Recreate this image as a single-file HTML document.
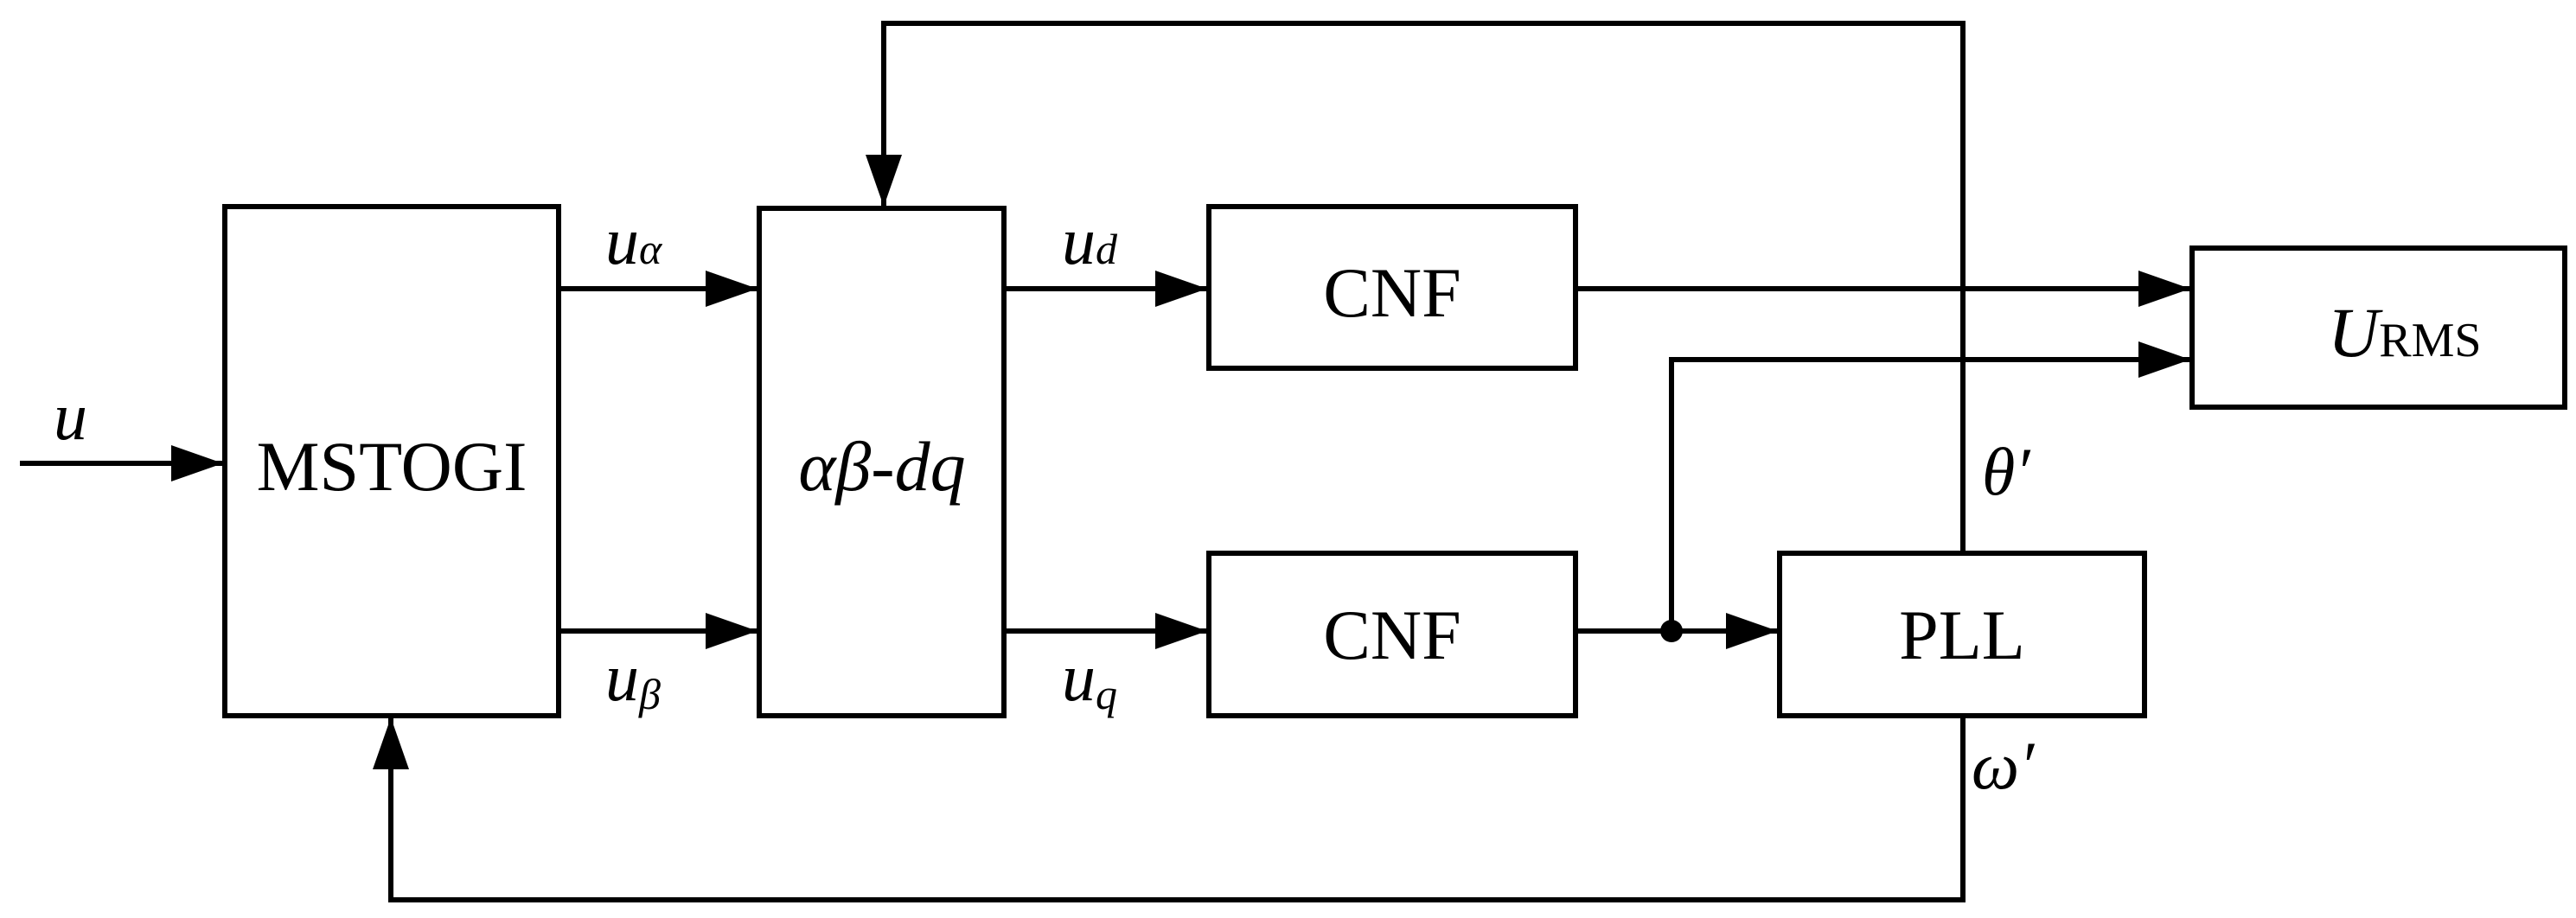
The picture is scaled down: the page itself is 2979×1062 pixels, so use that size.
<!DOCTYPE html>
<html><head><meta charset="utf-8"><style>
html,body{margin:0;padding:0;background:#fff;}
svg{display:block;}
text{font-family:"Liberation Serif",serif;fill:#000;}
</style></head><body>
<svg width="2979" height="1062" viewBox="0 0 2979 1062" xmlns="http://www.w3.org/2000/svg">
<defs>
<marker id="a" markerUnits="userSpaceOnUse" markerWidth="62" markerHeight="44" refX="60" refY="21" orient="auto">
<path d="M0,0 L60,21 L0,42 Z" fill="#000"/>
</marker>
</defs>
<g fill="none" stroke="#000" stroke-width="6">
<rect x="260" y="239" width="386" height="589"/>
<rect x="878" y="241" width="283" height="587"/>
<rect x="1398" y="239" width="424" height="187"/>
<rect x="1398" y="640" width="424" height="188"/>
<rect x="2535" y="287" width="431" height="184"/>
<rect x="2058" y="640" width="422" height="188"/>
<line x1="23" y1="536" x2="258" y2="536" marker-end="url(#a)"/>
<line x1="646" y1="334" x2="876" y2="334" marker-end="url(#a)"/>
<line x1="646" y1="730" x2="876" y2="730" marker-end="url(#a)"/>
<line x1="1161" y1="334" x2="1396" y2="334" marker-end="url(#a)"/>
<line x1="1161" y1="730" x2="1396" y2="730" marker-end="url(#a)"/>
<line x1="1822" y1="334" x2="2533" y2="334" marker-end="url(#a)"/>
<line x1="1822" y1="730" x2="2056" y2="730" marker-end="url(#a)"/>
<polyline points="1933,730 1933,416 2533,416" marker-end="url(#a)"/>
<polyline points="2270,640 2270,27 1022,27 1022,239" marker-end="url(#a)"/>
<polyline points="2270,828 2270,1041 452,1041 452,830" marker-end="url(#a)"/>
</g>
<circle cx="1933" cy="730" r="13" fill="#000"/>
<g font-size="82">
<text x="453" y="567" text-anchor="middle">MSTOGI</text>
<text x="1020" y="567" text-anchor="middle" font-style="italic">αβ-dq</text>
<text x="1610" y="366" text-anchor="middle">CNF</text>
<text x="1610" y="762" text-anchor="middle">CNF</text>
<text x="2269" y="762" text-anchor="middle">PLL</text>
</g>
<text x="2692" y="412" font-size="82" font-style="italic">U<tspan font-style="normal" font-size="56">RMS</tspan></text>
<g font-size="78" font-style="italic">
<text x="62" y="508">u</text>
<text x="700" y="305">u<tspan font-size="50">α</tspan></text>
<text x="700" y="810">u<tspan font-size="50" dy="10">β</tspan></text>
<text x="1228" y="305">u<tspan font-size="50">d</tspan></text>
<text x="1228" y="810">u<tspan font-size="50" dy="10">q</tspan></text>
<text x="2292" y="572">θ′</text>
<text x="2280" y="912">ω′</text>
</g>
</svg>
</body></html>
